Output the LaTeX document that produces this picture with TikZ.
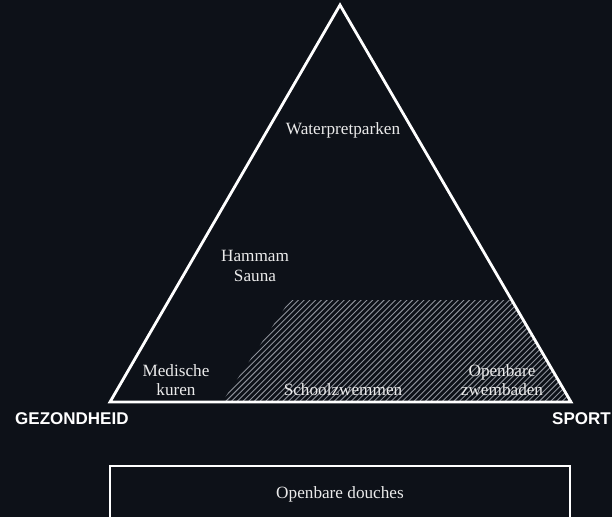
\documentclass[tikz,border=0pt]{standalone}
\usepackage{fontspec}
\setmainfont{Liberation Serif}
\newfontfamily\labelsans{Liberation Sans}
\definecolor{bg}{HTML}{0D1118}
\definecolor{hatch}{HTML}{8E929A}
\tikzset{
  lbl/.style={text=white!92!black, font=\fontsize{17.2}{19.5}\selectfont, align=center, inner sep=0pt},
  axis/.style={text=white, font=\labelsans\bfseries\fontsize{17}{18}\selectfont, inner sep=0pt},
  frame/.style={draw=white, line width=2.8pt, line join=miter},
}
\begin{document}
\begin{tikzpicture}[x=1pt,y=-1pt]
\useasboundingbox (0,0) rectangle (612,517);
\fill[bg] (0,0) rectangle (612,517);
% corners
\coordinate (apex) at (340,5);
\coordinate (bl) at (110,402);
\coordinate (br) at (571,402);
% hatched zone
\begin{scope}
  \clip (222,402) -- (290,300) -- (560,300) -- (br) -- cycle;
  \clip (apex) -- (bl) -- (br) -- cycle;
  \foreach \i in {-30,...,75} {
    \draw[hatch, line width=0.9pt] ({200+\i*5.7},410) -- ({200+\i*5.7+120},290);
  }
\end{scope}
% triangle
\draw[frame] (apex) -- (bl) -- (br) -- cycle;
% labels
\node[lbl] (wp) at (343,130) {Waterpretparken};
\node[lbl] (hs) at (255,266) {Hammam\\Sauna};
\node[lbl] (mk) at (176,380) {Medische\\kuren};
\node[lbl] (sz) at (343,390) {Schoolzwemmen};
\node[lbl] (oz) at (502,380) {Openbare\\zwembaden};
\node[axis, anchor=west] (gz) at (15,419) {GEZONDHEID};
\node[axis, anchor=west] (sp) at (552,419) {SPORT};
% box
\draw[frame] (110,530) -- (110,466) -- (570,466) -- (570,530);
\node[lbl] (od) at (340,494) {Openbare douches};
\end{tikzpicture}
\end{document}
